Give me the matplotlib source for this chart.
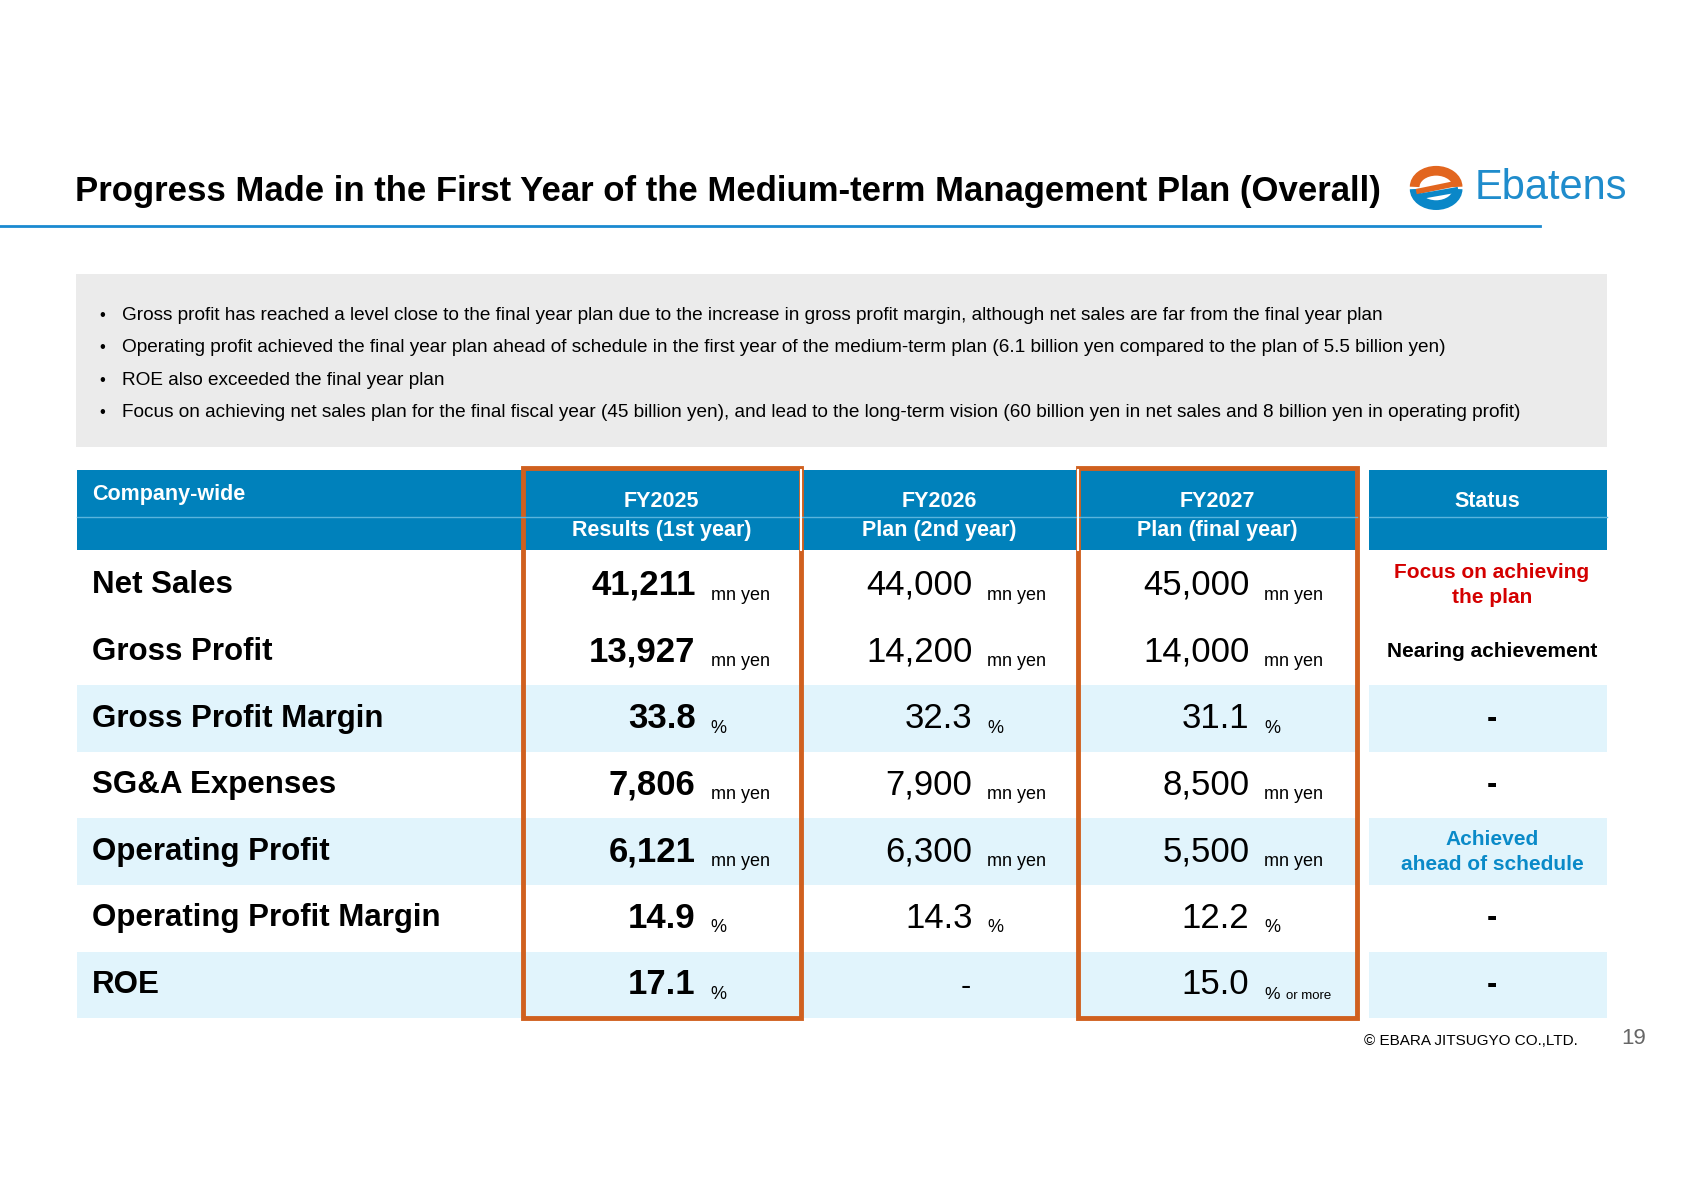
import matplotlib
matplotlib.use("Agg")
import matplotlib.pyplot as plt
from matplotlib.patches import Rectangle, Arc

plt.rcParams['font.family'] = ['Liberation Sans', 'DejaVu Sans']

title = "Progress Made in the First Year of the Medium-term Management Plan (Overall)"
bullets = [
    "Gross profit has reached a level close to the final year plan due to the increase in gross profit margin, although net sales are far from the final year plan",
    "Operating profit achieved the final year plan ahead of schedule in the first year of the medium-term plan (6.1 billion yen compared to the plan of 5.5 billion yen)",
    "ROE also exceeded the final year plan",
    "Focus on achieving net sales plan for the final fiscal year (45 billion yen), and lead to the long-term vision (60 billion yen in net sales and 8 billion yen in operating profit)",
]
col_heads = [("FY2025", "Results (1st year)"), ("FY2026", "Plan (2nd year)"), ("FY2027", "Plan (final year)")]
rows = ["Net Sales", "Gross Profit", "Gross Profit Margin", "SG&A Expenses",
        "Operating Profit", "Operating Profit Margin", "ROE"]
fy2025 = ["41,211", "13,927", "33.8", "7,806", "6,121", "14.9", "17.1"]
fy2026 = ["44,000", "14,200", "32.3", "7,900", "6,300", "14.3", "-"]
fy2027 = ["45,000", "14,000", "31.1", "8,500", "5,500", "12.2", "15.0"]
units = ["mn yen", "mn yen", "%", "mn yen", "mn yen", "%", "%"]
status = ["Focus on achieving\nthe plan", "Nearing achievement", "-", "-",
          "Achieved\nahead of schedule", "-", "-"]
status_color = ["#d40000", "black", "black", "black", "#0a8ac8", "black", "black"]
shaded = [False, False, True, False, True, False, True]

BLUE = "#0081bb"
ORANGE = "#d0601f"
LIGHT = "#e1f4fc"

fig = plt.figure(figsize=(16.83, 11.90), dpi=100)
ax = fig.add_axes([0, 0, 1, 1])
ax.set_xlim(0, 1568)
ax.set_ylim(1108, 0)
ax.axis("off")

# title and logo
ax.text(70, 178, title, fontsize=25, fontweight="bold", va="center")
ax.plot([0, 1435], [210, 210], color="#1a8ad0", lw=2)
ax.add_patch(Arc((1338, 174), 40, 30, theta1=180, theta2=360, color="#e2661f", lw=7))
ax.add_patch(Arc((1338, 176), 40, 30, theta1=0, theta2=180, color="#0a87c8", lw=7))
ax.plot([1322, 1356], [178, 171], color="#e2661f", lw=4)
ax.plot([1322, 1356], [183, 177], color="#0a87c8", lw=4)
ax.text(1374, 175, "Ebatens", fontsize=30, color="#1f8ccc", va="center")

# bullet box
ax.add_patch(Rectangle((71, 255), 1426, 161, color="#ebebeb", lw=0))
for i, b in enumerate(bullets):
    y = 294 + 30 * i
    ax.text(93, y, "•", fontsize=12, va="center")
    ax.text(114, y, b, fontsize=13.7, va="center")

# table geometry
cols = [(72, 487), (487, 746), (746, 1004), (1004, 1264)]
stat = (1275, 1497)
top, hmid, hbot = 438, 481, 512
rh = 62

ax.add_patch(Rectangle((72, top), 1264 - 72, hbot - top, color=BLUE, lw=0))
ax.add_patch(Rectangle((stat[0], top), stat[1] - stat[0], hbot - top, color=BLUE, lw=0))
ax.plot([72, 1264], [hmid, hmid], color="#5ab4dc", lw=1)
ax.plot([stat[0], stat[1]], [hmid, hmid], color="#5ab4dc", lw=1)
for x in (746, 1004):
    ax.plot([x, x], [top, hbot], color="white", lw=1.5)
ax.text(86, 460, "Company-wide", fontsize=15.5, fontweight="bold", color="white", va="center")
for (x0, x1), (a, b) in zip(cols[1:], col_heads):
    xc = (x0 + x1) / 2
    ax.text(xc, 467, a, fontsize=15.5, fontweight="bold", color="white", ha="center", va="center")
    ax.text(xc, 494, b, fontsize=15.5, fontweight="bold", color="white", ha="center", va="center")
ax.text(sum(stat) / 2, 467, "Status", fontsize=15.5, fontweight="bold", color="white",
        ha="center", va="center")

for i, name in enumerate(rows):
    y0 = hbot + 2 + rh * i
    yc = y0 + rh / 2
    if shaded[i]:
        ax.add_patch(Rectangle((72, y0), 1264 - 72, rh, color=LIGHT, lw=0))
        ax.add_patch(Rectangle((stat[0], y0), stat[1] - stat[0], rh, color=LIGHT, lw=0))
    ax.text(86, yc, name, fontsize=22.5, fontweight="bold", va="center")
    for j, vals in enumerate((fy2025, fy2026, fy2027)):
        xr = 648 + 258 * j
        v = vals[i]
        bold = "bold" if j == 0 else "normal"
        if v == "-":
            ax.text(xr - 6, yc + 2, v, fontsize=22, ha="center", va="center")
            continue
        ax.text(xr, yc, v, fontsize=25, fontweight=bold, ha="right", va="center")
        u = units[i]
        if j == 2 and i == 6:
            ax.text(xr + 14, yc + 9, "%", fontsize=12.5, va="center")
            ax.text(xr + 34, yc + 10, "or more", fontsize=9.5, va="center")
        else:
            ax.text(xr + 14, yc + 9, u, fontsize=13, va="center")
    st = status[i]
    ax.text(1390, yc, st, fontsize=15 if st != "-" else 22, fontweight="bold",
            color=status_color[i], ha="center", va="center", linespacing=1.4)

# orange highlight boxes
for x0, x1 in (cols[1], cols[3]):
    ax.add_patch(Rectangle((x0, 436), x1 - x0, 948 - 436, fill=False,
                           edgecolor=ORANGE, lw=3.5))

ax.text(1470, 969, "© EBARA JITSUGYO CO.,LTD.", fontsize=11, ha="right", va="center")
ax.text(1522, 967, "19", fontsize=16, color="#666666", ha="center", va="center")

fig.savefig("out.png", dpi=100)
